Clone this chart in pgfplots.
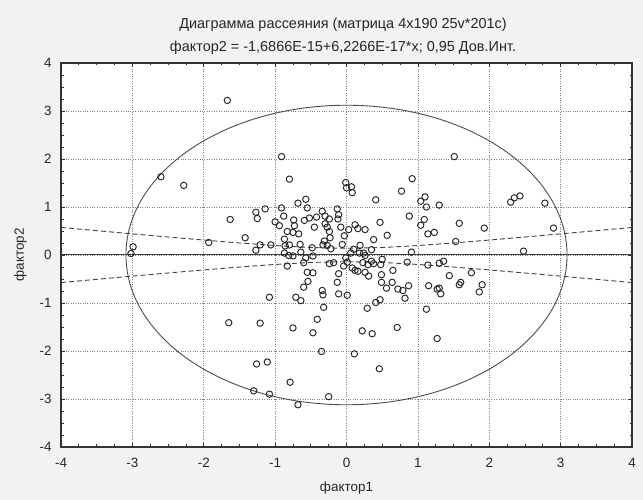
\documentclass[border=0pt]{standalone}
\usepackage{pgfplots}
\pgfplotsset{compat=1.18}
\usepackage{fontspec}
\setmainfont{Liberation Sans}
\pgfplotstableread{
x y
-0.80 1.58
-0.01 1.51
0.00 1.40
0.07 1.42
0.08 1.30
0.92 1.59
0.77 1.33
0.41 1.15
-0.57 1.16
-0.68 1.08
-0.55 0.98
-0.91 0.98
-1.14 0.96
-1.27 0.89
-1.25 0.76
-1.00 0.69
-0.94 0.61
-0.88 0.81
-0.74 0.73
-0.73 0.61
-0.59 0.72
-0.52 0.77
-0.42 0.79
-0.34 0.91
-0.30 0.81
-0.24 0.75
-0.13 0.96
-0.11 0.84
-0.12 0.75
-0.45 0.58
-0.30 0.65
-0.27 0.58
-0.24 0.49
-0.23 0.36
-0.31 0.29
-0.08 0.58
0.03 0.53
0.12 0.63
0.16 0.55
0.26 0.53
0.47 0.68
0.57 0.41
0.38 0.32
-0.03 0.40
-0.06 0.22
-0.83 0.49
-0.75 0.47
-0.67 0.44
-0.87 0.33
-1.42 0.36
-1.21 0.21
-1.27 0.10
-1.06 0.21
-0.86 0.19
-0.80 0.21
-0.87 0.04
-0.81 -0.01
-0.75 -0.02
-0.65 0.22
-0.64 0.06
-0.57 -0.06
-0.48 0.15
-0.47 -0.02
-0.33 0.21
-0.27 0.20
-0.22 0.13
-0.60 -0.16
-0.83 -0.23
-0.24 -0.18
-0.18 -0.16
-0.01 -0.06
0.06 0.04
0.10 0.12
0.19 0.20
0.18 0.04
0.24 0.04
0.35 0.11
0.26 -0.01
0.01 -0.15
-0.04 -0.23
0.08 -0.27
0.12 -0.32
0.16 -0.34
0.23 -0.16
0.30 -0.20
0.35 -0.13
0.38 -0.18
0.50 -0.09
0.48 -0.20
0.85 -0.15
0.91 0.06
0.26 -0.36
0.31 -0.44
0.49 -0.41
0.65 -0.32
0.49 -0.57
0.64 -0.57
0.56 -0.69
0.72 -0.71
0.79 -0.74
0.87 -0.64
0.82 -0.90
-0.55 -0.36
-0.47 -0.37
-0.54 -0.55
-0.60 -0.67
-0.11 -0.39
-0.13 -0.57
-0.34 -0.74
-0.33 -0.83
-0.11 -0.81
0.01 -0.84
-0.71 -0.88
-0.64 -0.95
-1.08 -0.88
-0.32 -1.09
-0.41 -1.34
0.29 -1.11
0.41 -0.99
0.47 -0.93
-1.21 -1.42
-0.75 -1.52
-0.47 -1.62
0.22 -1.58
0.36 -1.64
0.71 -1.51
1.12 -1.13
1.15 -0.64
1.27 -0.71
1.14 -0.21
1.04 1.12
1.10 1.21
1.12 1.00
1.09 0.74
1.04 0.62
1.14 0.44
1.23 0.47
0.88 0.81
-1.67 3.22
-2.60 1.63
-2.28 1.45
-0.91 2.05
1.51 2.05
-1.63 0.74
-1.93 0.26
-2.99 0.17
-3.02 0.03
1.30 1.04
2.30 1.10
2.35 1.19
2.43 1.23
2.78 1.08
1.58 0.66
1.93 0.56
2.90 0.56
1.53 0.28
2.48 0.08
1.36 -0.13
1.30 -0.17
1.44 -0.43
1.75 -0.37
1.60 -0.57
1.58 -0.62
1.90 -0.62
1.86 -0.77
1.30 -0.69
1.32 -0.81
-1.65 -1.41
-1.26 -2.27
-1.11 -2.23
-1.30 -2.83
-1.08 -2.90
1.27 -1.74
-0.35 -2.01
0.11 -2.06
0.46 -2.37
-0.79 -2.65
-0.25 -2.95
-0.68 -3.12
}\points
\pgfplotstableread{
x up lo
-4.0 0.574 -0.574
-3.5 0.507 -0.507
-3.0 0.440 -0.440
-2.5 0.375 -0.375
-2.0 0.311 -0.311
-1.5 0.251 -0.251
-1.0 0.197 -0.197
-0.5 0.155 -0.155
0.0 0.139 -0.139
0.5 0.155 -0.155
1.0 0.197 -0.197
1.5 0.251 -0.251
2.0 0.311 -0.311
2.5 0.375 -0.375
3.0 0.440 -0.440
3.5 0.507 -0.507
4.0 0.574 -0.574
}\bands
\begin{document}
\begin{tikzpicture}[x=1bp,y=1bp]
\fill[black!5] (0,0) rectangle (643,500);
\node[font=\fontsize{14.5}{16}\selectfont, text=black!85] at (343,475) {Диаграмма рассеяния (матрица 4x190 25v*201c)};
\node[font=\fontsize{14.5}{16}\selectfont, text=black!85] at (343,452) {фактор2 = -1,6866E-15+6,2266E-17*x; 0,95 Дов.Инт.};
\begin{axis}[
  at={(61bp,53bp)}, anchor=south west, scale only axis,
  width=571bp, height=384bp,
  xmin=-4, xmax=4, ymin=-4, ymax=4,
  xtick={-4,...,4}, ytick={-4,...,4},
  minor tick num=3,
  tick align=inside,
  major tick length=4bp, minor tick length=2.5bp,
  grid=major,
  grid style={dotted, black!50, line width=0.6pt},
  axis line style={black!80, line width=1.1pt},
  tick style={black!80, line width=0.7pt},
  axis background/.style={fill=white},
  ticklabel style={font=\fontsize{13.5}{15}\selectfont, text=black!85},
  xticklabel style={yshift=-8bp},
  yticklabel style={xshift=-6bp},
  /pgf/number format/assume math mode=true,
  xlabel={фактор1}, ylabel={фактор2},
  label style={font=\fontsize{13.5}{15}\selectfont, text=black!85},
  xlabel style={yshift=-7bp},
  ylabel style={yshift=6bp},
]
\addplot[only marks, mark=o, mark size=3.2bp, mark options={black!85, line width=0.95pt}] table[x=x,y=y] {\points};
\addplot[black!75, line width=0.9pt, dashed, dash pattern=on 5bp off 3bp] table[x=x,y=up] {\bands};
\addplot[black!75, line width=0.9pt, dashed, dash pattern=on 5bp off 3bp] table[x=x,y=lo] {\bands};
\addplot[black!75, line width=1pt] coordinates {(-4,0) (4,0)};
\draw[black!70, line width=0.9pt] (axis cs:0,0) ellipse [x radius=3.09, y radius=3.12];
\end{axis}
\end{tikzpicture}
\end{document}
